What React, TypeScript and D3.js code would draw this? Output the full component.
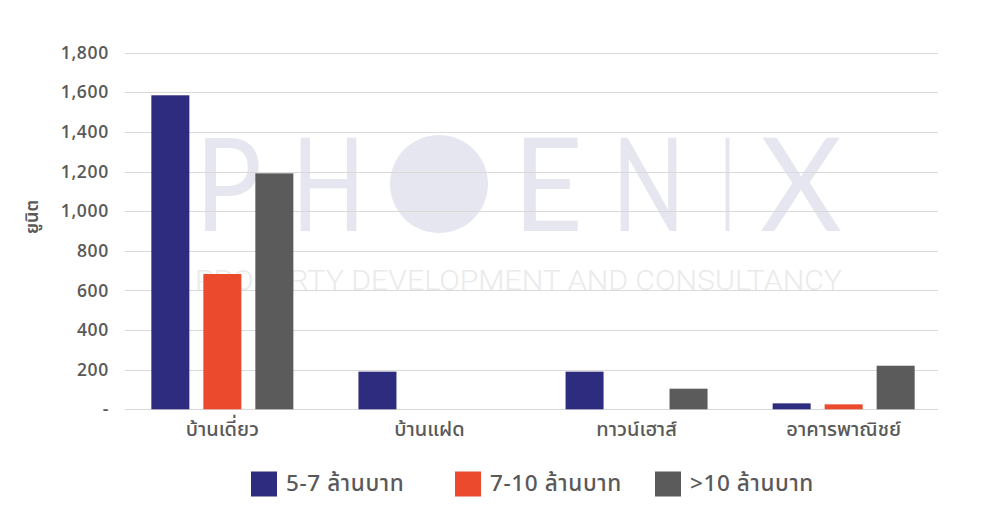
import React from "react";
import * as d3 from "d3";

const categories = ["บ้านเดี่ยว", "บ้านแฝด", "ทาวน์เฮาส์", "อาคารพาณิชย์"];
const seriesNames = ["5-7 ล้านบาท", "7-10 ล้านบาท", ">10 ล้านบาท"];
const series57 = [1585, 190, 190, 30];
const series710 = [683, 0, 0, 25];
const series10p = [1191, 0, 104, 220];
const seriesValues = [series57, series710, series10p];
const colors = ["#2E2C7E", "#EC4A2C", "#5B5B5B"];
const yTicks = [0, 200, 400, 600, 800, 1000, 1200, 1400, 1600, 1800];
const yTitle = "ยูนิต";

const W = 1007;
const H = 527;
const thaiFont = "'Noto Sans Thai', 'Noto Sans Thai UI', Kanit, Prompt, 'Noto Sans', 'DejaVu Sans', sans-serif";
const numFont = "'Open Sans', 'Noto Sans', sans-serif";

export default function App() {
  const y = d3.scaleLinear().domain([0, 1800]).range([409.3, 52.7]);
  const x = d3.scaleBand<string>().domain(categories).range([118.8, 947.2]);
  const inner = d3
    .scaleBand<string>()
    .domain(seriesNames)
    .range([0, x.bandwidth()])
    .paddingInner(0.269)
    .paddingOuter(0.626);
  const fmt = d3.format(",");
  const gridX0 = 125;
  const gridX1 = 938;
  const legendX = [251, 455, 655];

  const wmLetters = [
    { ch: "P", x: 195, w: 67 },
    { ch: "H", x: 292, w: 73 },
    { ch: "E", x: 513, w: 70 },
    { ch: "N", x: 612, w: 73 },
    { ch: "I", x: 722, w: 11 },
    { ch: "X", x: 760, w: 82 },
  ];

  return (
    <svg
      width={W}
      height={H}
      style={{ position: "absolute", left: 0, top: 0, background: "#fff" }}
    >
      {/* watermark */}
      <g fill="#E6E6F0">
        {wmLetters.map((l) => (
          <text
            key={l.ch}
            x={l.x}
            y={231}
            fontFamily="Lato, 'Open Sans', sans-serif"
            fontWeight={400}
            fontSize={130}
            textLength={l.w}
            lengthAdjust="spacingAndGlyphs"
          >
            {l.ch}
          </text>
        ))}
        <circle cx={439} cy={184} r={49} />
      </g>
      <text
        x={195}
        y={290}
        fill="#EAEAEA"
        fontFamily="Roboto, 'Open Sans', sans-serif"
        fontWeight={300}
        fontSize={28}
        textLength={647}
        lengthAdjust="spacingAndGlyphs"
      >
        PROPERTY DEVELOPMENT AND CONSULTANCY
      </text>

      {/* gridlines */}
      {yTicks.map((t) => (
        <line
          key={t}
          x1={gridX0}
          x2={gridX1}
          y1={Math.round(y(t)) + 0.5}
          y2={Math.round(y(t)) + 0.5}
          stroke="#D9D9D9"
          strokeWidth={1}
        />
      ))}

      {/* y tick labels */}
      {yTicks.map((t) => (
        <text
          key={"l" + t}
          x={109}
          y={y(t)}
          dy="0.35em"
          textAnchor="end"
          fill="#595959"
          fontFamily={numFont}
          fontWeight={600}
          fontSize={17.5}
          letterSpacing={0.7}
        >
          {t === 0 ? "-" : fmt(t)}
        </text>
      ))}

      {/* y title */}
      <text
        transform={`translate(38,217) rotate(-90)`}
        textAnchor="middle"
        fill="#595959"
        fontFamily={thaiFont}
        fontWeight={600}
        fontSize={18}
      >
        {yTitle}
      </text>

      {/* bars */}
      {categories.map((c, ci) => (
        <g key={c} transform={`translate(${x(c)},0)`}>
          {seriesNames.map((s, si) => {
            const v = seriesValues[si][ci];
            if (!v) return null;
            return (
              <rect
                key={s}
                x={inner(s)}
                y={y(v)}
                width={inner.bandwidth()}
                height={y(0) - y(v)}
                fill={colors[si]}
              />
            );
          })}
        </g>
      ))}

      {/* category labels */}
      {categories.map((c) => (
        <text
          key={"c" + c}
          x={(x(c) as number) + x.bandwidth() / 2}
          y={435.5}
          textAnchor="middle"
          fill="#595959"
          fontFamily={thaiFont}
          fontWeight={500}
          fontSize={20}
        >
          {c}
        </text>
      ))}

      {/* legend */}
      {seriesNames.map((s, i) => (
        <g key={"lg" + s} transform={`translate(${legendX[i]},471.5)`}>
          <rect width={26} height={25} fill={colors[i]} />
          <text
            x={35}
            y={19.5}
            fill="#595959"
            fontFamily={thaiFont}
            fontWeight={500}
            fontSize={22.5}
            letterSpacing={0.6}
          >
            {s}
          </text>
        </g>
      ))}
    </svg>
  );
}
